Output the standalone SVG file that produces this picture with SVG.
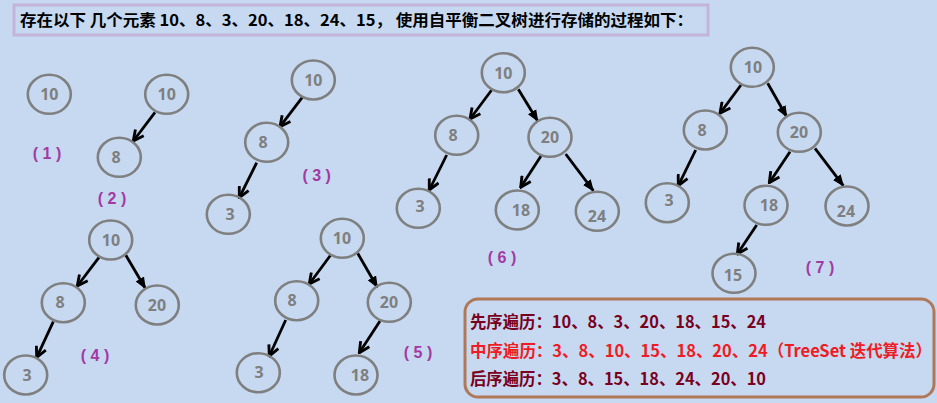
<svg xmlns="http://www.w3.org/2000/svg" width="937" height="403" viewBox="0 0 937 403">
<style>
.bg{fill:#c6d9f1}
.n ellipse{fill:none;stroke:#7f7f7f;stroke-width:2.6}
.n text{fill:#7f7f7f;font-family:"Noto Sans","Liberation Sans",sans-serif;font-weight:bold;font-size:16px;text-anchor:middle}
.e{stroke:#000;stroke-width:2.8;fill:none}
.lbl{fill:#a33aa3;font-family:"Liberation Sans","Noto Sans CJK SC",sans-serif;font-weight:bold;font-size:16px;text-anchor:middle}
.title{font-family:"Noto Sans CJK SC","Liberation Sans",sans-serif;font-weight:bold;font-size:16px;fill:#000}
.tr{font-family:"Noto Sans CJK SC","Liberation Sans",sans-serif;font-weight:bold;font-size:16.5px;fill:#7a0020}
.tr.red{fill:#ee1c24}
</style>
<defs>
<marker id="open" viewBox="0 0 10 10" refX="9" refY="5" markerWidth="13" markerHeight="13" markerUnits="userSpaceOnUse" orient="auto">
<path d="M1,1 L9,5 L1,9" fill="none" stroke="#000" stroke-width="2.2"/>
</marker>
<marker id="fill" viewBox="0 0 10 10" refX="9" refY="5" markerWidth="12" markerHeight="12" markerUnits="userSpaceOnUse" orient="auto">
<path d="M0,1 L10,5 L0,9 z" fill="#000"/>
</marker>
</defs>
<rect class="bg" x="0" y="0" width="937" height="403"/>

<g id="title">
<rect x="14" y="5" width="694" height="30" fill="none" stroke="#c4b4dc" stroke-width="3"/>
<text class="title" x="20" y="26" textLength="673" lengthAdjust="spacingAndGlyphs">存在以下 几个元素 10、8、3、20、18、24、15， 使用自平衡二叉树进行存储的过程如下：</text>
</g>

<g id="connectors">
<line class="e" x1="155" y1="112.3" x2="133.3" y2="141" marker-end="url(#open)"/>
<line class="e" x1="302.3" y1="97.3" x2="280" y2="126.7" marker-end="url(#open)"/>
<line class="e" x1="256.7" y1="162.7" x2="239.3" y2="197.7" marker-end="url(#open)"/>
<line class="e" x1="99" y1="257.3" x2="77.3" y2="286" marker-end="url(#open)"/>
<line class="e" x1="125.7" y1="255" x2="145.3" y2="288.3" marker-end="url(#fill)"/>
<line class="e" x1="53.3" y1="321.7" x2="36.7" y2="357.3" marker-end="url(#open)"/>
<line class="e" x1="330.7" y1="255" x2="309.3" y2="284" marker-end="url(#open)"/>
<line class="e" x1="357.7" y1="253.3" x2="377.3" y2="287.3" marker-end="url(#fill)"/>
<line class="e" x1="285.7" y1="320" x2="269.3" y2="356" marker-end="url(#open)"/>
<line class="e" x1="380" y1="321" x2="359.3" y2="352.7" marker-end="url(#open)"/>
<line class="e" x1="491.7" y1="90" x2="470" y2="119" marker-end="url(#open)"/>
<line class="e" x1="518.3" y1="89.3" x2="537.7" y2="121" marker-end="url(#fill)"/>
<line class="e" x1="446.7" y1="155" x2="429.3" y2="190" marker-end="url(#open)"/>
<line class="e" x1="541" y1="156" x2="520.7" y2="187.3" marker-end="url(#open)"/>
<line class="e" x1="565.7" y1="154" x2="593.3" y2="190.7" marker-end="url(#fill)"/>
<line class="e" x1="741" y1="85" x2="720" y2="113.3" marker-end="url(#open)"/>
<line class="e" x1="767.7" y1="83.3" x2="786.7" y2="116.7" marker-end="url(#fill)"/>
<line class="e" x1="695.7" y1="150" x2="678.3" y2="185.7" marker-end="url(#open)"/>
<line class="e" x1="790" y1="151.7" x2="769.3" y2="182.7" marker-end="url(#open)"/>
<line class="e" x1="815" y1="148.3" x2="843.3" y2="185.7" marker-end="url(#fill)"/>
<line class="e" x1="756.7" y1="225" x2="737.3" y2="254" marker-end="url(#open)"/>
</g>

<g id="t1-10" class="n"><ellipse cx="49.3" cy="94.3" rx="21.5" ry="19.5"/><text x="49.3" y="100">10</text></g>
<g id="t2-10" class="n"><ellipse cx="166.7" cy="94.3" rx="21.5" ry="19.5"/><text x="166.7" y="100">10</text></g>
<g id="t2-8" class="n"><ellipse cx="119.3" cy="157.3" rx="21.5" ry="19.5"/><text x="116" y="163">8</text></g>

<g id="t3-10" class="n"><ellipse cx="313.3" cy="80" rx="21.5" ry="19.5"/><text x="313.3" y="86">10</text></g>
<g id="t3-8" class="n"><ellipse cx="266.7" cy="142.3" rx="21.5" ry="19.5"/><text x="263" y="148">8</text></g>
<g id="t3-3" class="n"><ellipse cx="228.3" cy="214.3" rx="21.5" ry="19.5"/><text x="230" y="220">3</text></g>

<g id="t4-10" class="n"><ellipse cx="110.7" cy="240" rx="21.5" ry="19.5"/><text x="111" y="246">10</text></g>
<g id="t4-8" class="n"><ellipse cx="63.3" cy="302.7" rx="21.5" ry="19.5"/><text x="60" y="308">8</text></g>
<g id="t4-20" class="n"><ellipse cx="157.3" cy="305" rx="21.5" ry="19.5"/><text x="157" y="311">20</text></g>
<g id="t4-3" class="n"><ellipse cx="25.7" cy="375" rx="21.5" ry="19.5"/><text x="27" y="381">3</text></g>

<g id="t5-10" class="n"><ellipse cx="342.3" cy="238.3" rx="21.5" ry="19.5"/><text x="342" y="244">10</text></g>
<g id="t5-8" class="n"><ellipse cx="296.7" cy="300.7" rx="21.5" ry="19.5"/><text x="292" y="306">8</text></g>
<g id="t5-20" class="n"><ellipse cx="389.3" cy="302.3" rx="21.5" ry="19.5"/><text x="389" y="308">20</text></g>
<g id="t5-3" class="n"><ellipse cx="258.3" cy="372.7" rx="21.5" ry="19.5"/><text x="259" y="378">3</text></g>
<g id="t5-18" class="n"><ellipse cx="356" cy="375" rx="21.5" ry="19.5"/><text x="360" y="381">18</text></g>

<g id="t6-10" class="n"><ellipse cx="503.3" cy="72.7" rx="21.5" ry="19.5"/><text x="503.3" y="78.5">10</text></g>
<g id="t6-8" class="n"><ellipse cx="456.7" cy="135.3" rx="21.5" ry="19.5"/><text x="453" y="141">8</text></g>
<g id="t6-20" class="n"><ellipse cx="550" cy="137.3" rx="21.5" ry="19.5"/><text x="550" y="143">20</text></g>
<g id="t6-3" class="n"><ellipse cx="418.3" cy="208.3" rx="21.5" ry="19.5"/><text x="420" y="212">3</text></g>
<g id="t6-18" class="n"><ellipse cx="517.3" cy="210" rx="21.5" ry="19.5"/><text x="521" y="216">18</text></g>
<g id="t6-24" class="n"><ellipse cx="597.3" cy="211.3" rx="21.5" ry="19.5"/><text x="597" y="222">24</text></g>

<g id="t7-10" class="n"><ellipse cx="752.3" cy="67.3" rx="21.5" ry="19.5"/><text x="753" y="73">10</text></g>
<g id="t7-8" class="n"><ellipse cx="705.3" cy="130" rx="21.5" ry="19.5"/><text x="702" y="136">8</text></g>
<g id="t7-20" class="n"><ellipse cx="799.3" cy="132.3" rx="21.5" ry="19.5"/><text x="799" y="138">20</text></g>
<g id="t7-3" class="n"><ellipse cx="667.3" cy="202.7" rx="21.5" ry="19.5"/><text x="669" y="206">3</text></g>
<g id="t7-18" class="n"><ellipse cx="766" cy="205.3" rx="21.5" ry="19.5"/><text x="769" y="211">18</text></g>
<g id="t7-24" class="n"><ellipse cx="847" cy="206" rx="21.5" ry="19.5"/><text x="846" y="217">24</text></g>
<g id="t7-15" class="n"><ellipse cx="734" cy="273.3" rx="21.5" ry="19.5"/><text x="733" y="281">15</text></g>

<g id="labels">
<text class="lbl" x="47" y="159">( 1 )</text>
<text class="lbl" x="112" y="204">( 2 )</text>
<text class="lbl" x="316.7" y="181">( 3 )</text>
<text class="lbl" x="95" y="361">( 4 )</text>
<text class="lbl" x="418" y="358">( 5 )</text>
<text class="lbl" x="502" y="263">( 6 )</text>
<text class="lbl" x="820" y="273">( 7 )</text>
</g>

<g id="traversals">
<rect x="465" y="299" width="469" height="98" rx="13" ry="13" fill="none" stroke="#b07858" stroke-width="3"/>
<text class="tr" x="470" y="328" textLength="296" lengthAdjust="spacingAndGlyphs">先序遍历：10、8、3、20、18、15、24</text>
<text class="tr red" x="470" y="357" textLength="462" lengthAdjust="spacingAndGlyphs">中序遍历：3、8、10、15、18、20、24（TreeSet 迭代算法）</text>
<text class="tr" x="470" y="385" textLength="296" lengthAdjust="spacingAndGlyphs">后序遍历：3、8、15、18、24、20、10</text>
</g>
</svg>
